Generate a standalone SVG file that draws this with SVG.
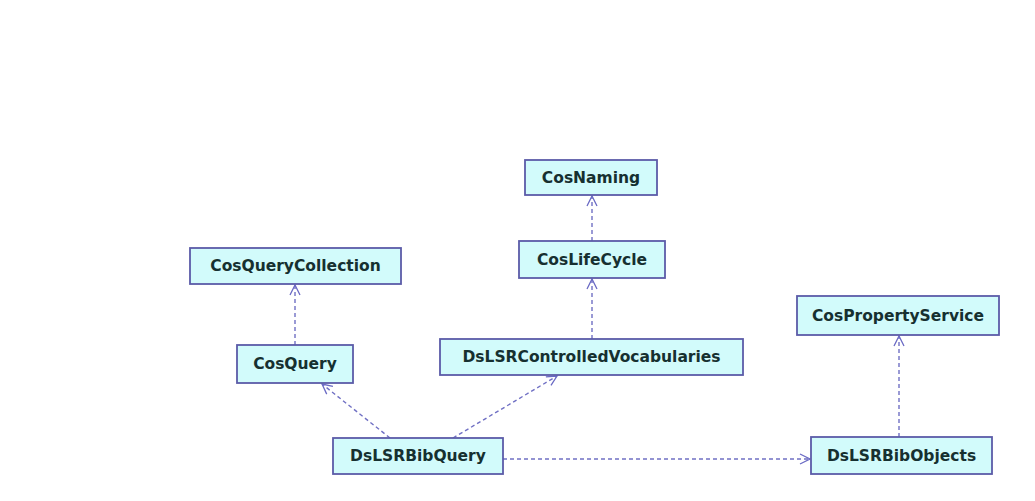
<svg xmlns="http://www.w3.org/2000/svg" width="1035" height="501" viewBox="0 0 1035 501">
<style>
.box{fill:#d2fbfb;stroke:#5b5ba8;stroke-width:1.8}
.lbl{font-family:"DejaVu Sans",sans-serif;font-weight:bold;font-size:15.5px;fill:#163030;text-anchor:middle;dominant-baseline:central}
.dep{fill:none;stroke:#7070c4;stroke-width:1.4;stroke-dasharray:4 3}
</style>
<defs>
<marker id="open" viewBox="0 0 12 12" refX="11" refY="6" markerWidth="12" markerHeight="12" markerUnits="userSpaceOnUse" orient="auto">
<path d="M1,1 L11,6 L1,11" fill="none" stroke="#6a6ac4" stroke-width="1.3"/>
</marker>
</defs>
<rect width="1035" height="501" fill="#ffffff"/>
<g id="connectors">
<line class="dep" x1="592" y1="241" x2="592" y2="196" marker-end="url(#open)"/>
<line class="dep" x1="592" y1="339" x2="592" y2="279" marker-end="url(#open)"/>
<line class="dep" x1="295" y1="345" x2="295" y2="285" marker-end="url(#open)"/>
<line class="dep" x1="390" y1="438" x2="322" y2="384" marker-end="url(#open)"/>
<line class="dep" x1="453" y1="438" x2="557" y2="376" marker-end="url(#open)"/>
<line class="dep" x1="503" y1="459" x2="810" y2="459" marker-end="url(#open)"/>
<line class="dep" x1="899" y1="437" x2="899" y2="336" marker-end="url(#open)"/>
</g>
<g id="CosNaming"><rect class="box" x="525" y="160" width="132" height="35"/><text class="lbl" x="591" y="177.5">CosNaming</text></g>
<g id="CosLifeCycle"><rect class="box" x="519" y="241" width="146" height="37"/><text class="lbl" x="592" y="259.5">CosLifeCycle</text></g>
<g id="CosQueryCollection"><rect class="box" x="190" y="248" width="211" height="36"/><text class="lbl" x="295.5" y="266">CosQueryCollection</text></g>
<g id="CosPropertyService"><rect class="box" x="797" y="296" width="202" height="39"/><text class="lbl" x="898" y="315.5">CosPropertyService</text></g>
<g id="CosQuery"><rect class="box" x="237" y="345" width="116" height="38"/><text class="lbl" x="295" y="364">CosQuery</text></g>
<g id="DsLSRControlledVocabularies"><rect class="box" x="440" y="339" width="303" height="36"/><text class="lbl" x="591.5" y="357">DsLSRControlledVocabularies</text></g>
<g id="DsLSRBibQuery"><rect class="box" x="333" y="438" width="170" height="36"/><text class="lbl" x="418" y="456">DsLSRBibQuery</text></g>
<g id="DsLSRBibObjects"><rect class="box" x="811" y="437" width="181" height="37"/><text class="lbl" x="901.5" y="455.5">DsLSRBibObjects</text></g>
</svg>
